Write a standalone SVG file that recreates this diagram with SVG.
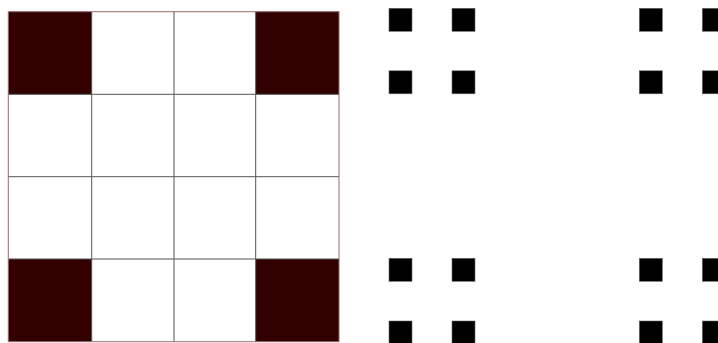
<svg xmlns="http://www.w3.org/2000/svg" width="718" height="343" viewBox="0 0 718 343">
<style>
.dark{fill:#330000;}
.cell{fill:#ffffff;}
.grid{stroke:#555555;stroke-width:1;fill:none;}
.border{stroke:#9a6a6a;stroke-width:1;fill:none;}
.dot{fill:#000000;stroke:#666666;stroke-width:0.6;}
</style>
<rect width="718" height="343" fill="#ffffff"/>
<g id="grid">
<rect class="dark" x="8.3" y="11.7" width="83.4" height="82.6"/>
<rect class="dark" x="255.7" y="11.7" width="83.3" height="82.6"/>
<rect class="dark" x="8.3" y="259" width="83.4" height="82.7"/>
<rect class="dark" x="255.7" y="259" width="83.3" height="82.7"/>
<g class="grid">
<line x1="91.7" y1="11.7" x2="91.7" y2="341.7"/>
<line x1="174" y1="11.7" x2="174" y2="341.7"/>
<line x1="255.7" y1="11.7" x2="255.7" y2="341.7"/>
<line x1="8.3" y1="94.3" x2="339" y2="94.3"/>
<line x1="8.3" y1="176.7" x2="339" y2="176.7"/>
<line x1="8.3" y1="259" x2="339" y2="259"/>
</g>
<rect class="border" x="8.3" y="11.7" width="330.7" height="330"/>
</g>
<g id="dots">
<rect class="dot" x="389" y="8.3" width="23" height="23"/>
<rect class="dot" x="452" y="8.3" width="23" height="23"/>
<rect class="dot" x="389" y="70.8" width="23" height="23"/>
<rect class="dot" x="452" y="70.8" width="23" height="23"/>
<rect class="dot" x="639.3" y="8.3" width="23" height="23"/>
<rect class="dot" x="702.3" y="8.3" width="23" height="23"/>
<rect class="dot" x="639.3" y="70.8" width="23" height="23"/>
<rect class="dot" x="702.3" y="70.8" width="23" height="23"/>
<rect class="dot" x="389" y="258.3" width="23" height="23"/>
<rect class="dot" x="452" y="258.3" width="23" height="23"/>
<rect class="dot" x="389" y="321" width="23" height="23"/>
<rect class="dot" x="452" y="321" width="23" height="23"/>
<rect class="dot" x="639.3" y="258.3" width="23" height="23"/>
<rect class="dot" x="702.3" y="258.3" width="23" height="23"/>
<rect class="dot" x="639.3" y="321" width="23" height="23"/>
<rect class="dot" x="702.3" y="321" width="23" height="23"/>
</g>
</svg>
